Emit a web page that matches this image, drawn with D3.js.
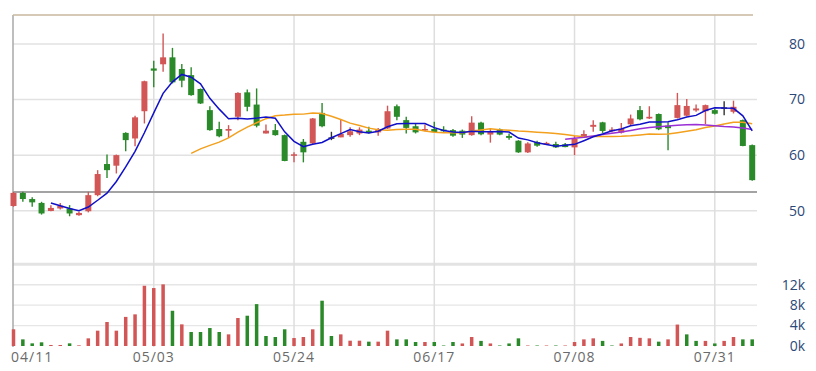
<!DOCTYPE html>
<html><head><meta charset="utf-8">
<script src="https://cdn.jsdelivr.net/npm/d3@7"></script>
<style>html,body{margin:0;padding:0;background:#fff;}svg{display:block;}</style>
</head><body>
<svg id="c" width="816" height="371"></svg>
<script>
// ---- data ----
const openP  = [50.85,53.2,52.1,51.4,49.95,50.4,50.4,49.2,49.9,52.8,58.4,58.1,64.0,63.0,67.9,75.6,76.35,77.6,75.5,74.4,71.9,68.1,64.7,64.4,66.9,71.3,69.1,63.9,64.5,63.6,59.9,62.4,62.1,67.6,63.2,63.2,63.6,63.9,64.4,64.1,64.8,68.8,66.3,65.2,64.5,64.7,64.6,64.5,64.4,63.6,65.85,63.7,64.65,63.45,62.6,60.5,62.35,62.0,62.0,61.95,61.4,63.2,65.1,65.9,64.3,64.05,65.55,68.1,66.6,67.4,65.3,66.7,67.1,68.05,67.9,68.1,68.6,67.8,66.3,61.8];
const highP  = [53.4,53.4,52.4,51.6,51.0,51.4,51.0,49.8,53.4,57.3,60.1,60.1,64.1,67.1,73.4,77.0,81.9,79.3,76.4,75.8,72.0,68.8,66.0,65.4,71.3,71.8,72.0,65.5,65.6,63.7,60.5,62.9,66.7,69.4,64.2,66.5,65.0,65.0,65.1,64.9,68.9,69.1,66.9,65.7,65.5,66.0,65.2,64.7,64.6,67.0,66.0,64.7,64.8,63.9,62.7,62.3,62.6,62.4,62.4,62.2,63.5,64.5,66.3,66.0,65.0,65.8,67.3,68.85,68.8,67.5,65.9,71.2,70.1,69.1,69.1,68.4,69.7,69.8,66.4,61.9];
const lowP   = [50.7,51.6,50.7,49.3,49.9,50.2,49.0,49.1,49.7,52.6,55.9,56.7,60.7,61.6,65.7,72.2,75.0,72.9,72.2,70.7,69.2,64.4,63.2,63.1,66.3,67.9,65.0,63.9,63.5,58.9,58.7,58.7,62.0,65.0,62.7,63.2,63.3,63.6,63.9,63.5,64.7,66.3,63.9,63.9,64.3,64.1,64.2,63.3,63.1,63.5,63.6,62.25,63.6,62.75,60.4,60.4,61.5,61.9,61.3,61.4,60.0,63.1,64.2,64.0,64.1,63.9,65.4,66.3,66.5,64.5,60.9,66.6,67.0,67.8,65.6,67.3,67.2,67.5,61.6,55.4];
const closeP = [53.2,52.1,51.5,49.5,50.5,50.9,49.5,49.6,52.8,56.6,57.3,60.0,62.7,66.8,73.3,75.2,77.6,73.1,73.4,70.8,69.3,64.5,63.4,64.7,71.2,68.7,65.3,64.4,63.6,58.95,60.15,60.5,66.6,65.2,63.2,63.8,64.3,64.6,64.05,64.7,67.9,66.9,64.9,64.1,64.7,64.15,64.3,63.5,63.7,65.85,63.75,64.35,63.7,63.1,60.5,62.1,61.7,62.2,61.4,61.45,62.95,63.8,65.45,64.35,64.6,64.75,66.6,66.45,66.9,64.65,64.85,69.0,68.85,68.4,69.0,67.45,68.6,68.7,61.65,55.5];
// volume in thousands
const volume = [3.27,1.3,0.52,0.72,0.2,0.2,0.52,0.13,1.5,3.0,4.7,3.0,5.7,6.2,11.8,11.35,12.07,6.9,4.24,2.74,2.74,3.52,2.74,2.28,5.48,5.93,8.2,1.96,1.76,3.27,1.56,1.76,3.27,8.87,1.96,2.28,1.04,1.04,0.85,0.85,3.0,1.3,1.3,0.78,0.78,0.78,0.1,0.78,0.5,1.76,1.0,0.5,0.1,0.5,1.5,0.1,0.1,0.1,0.1,0.1,0.78,1.3,1.5,1.0,0.1,0.5,1.76,1.6,1.5,0.85,1.3,4.2,2.28,1.0,1.0,0.5,1.0,1.76,1.3,1.3];
// 1 = up day (red), 0 = down day (green)
const volUp = [1,0,0,0,1,1,0,1,1,1,1,1,1,1,1,1,1,0,1,0,0,0,0,1,1,0,0,0,0,0,1,1,1,0,0,1,1,1,0,1,1,0,0,0,1,0,0,0,1,1,0,1,0,0,0,1,0,1,0,1,1,1,1,0,0,1,1,1,1,0,1,1,0,0,1,0,1,1,0,0];
const ma5 = [null,null,null,null,51.37,50.90,50.38,50.00,50.66,51.88,53.16,55.26,57.88,60.68,64.02,67.60,71.12,73.20,74.52,74.02,72.84,70.22,68.28,66.54,66.62,66.50,66.66,66.86,66.64,64.19,62.48,61.52,61.96,62.28,63.13,63.86,64.62,64.22,63.99,64.29,65.11,65.63,65.69,65.70,65.70,64.95,64.43,64.15,64.07,64.30,64.22,64.23,64.27,64.15,63.08,62.75,62.22,61.92,61.58,61.77,61.94,62.6,63.3,63.8,64.4,64.7,65.3,65.55,65.95,65.95,66.0,66.37,66.85,67.15,68.02,68.54,68.46,68.43,67.08,64.38];
const ma20 = [null,null,null,null,null,null,null,null,null,null,null,null,null,null,null,null,null,null,null,60.32,61.13,61.75,62.34,63.10,64.14,65.03,65.82,66.56,67.10,67.21,67.36,67.38,67.58,67.50,66.99,66.42,65.76,65.33,64.86,64.56,64.49,64.61,64.68,64.65,64.33,64.10,64.05,64.01,64.01,64.36,64.54,64.73,64.58,64.48,64.34,64.26,64.13,64.01,63.88,63.71,63.47,63.31,63.34,63.35,63.35,63.38,63.49,63.64,63.80,63.74,63.79,64.03,64.28,64.55,64.97,65.24,65.59,65.91,65.92,65.63];
const ma60 = [62.86,63.03,63.22,63.45,63.70,63.94,64.17,64.45,64.73,64.97,65.10,65.23,65.38,65.48,65.51,65.43,65.31,65.16,65.08,64.89,64.63];
const ma60Start = 59;
const tickIdx = [0,15,30,45,60,75];
const tickLabels = ["04/11","05/03","05/24","06/17","07/08","07/31"];
const priceTicks = [50,60,70,80];
const volTicks = [0,4,8,12];

// ---- layout ----
const svg = d3.select("#c");
const n = closeP.length;
const left = 13, right = 757;
const x = d3.scalePoint().domain(d3.range(n)).range([13.5, 752.2]);
const y = d3.scaleLinear().domain([50, 80]).range([210.7, 44]);
const yv = d3.scaleLinear().domain([0, 16]).range([346, 264.3]);
const RED = "#d25656", GREEN = "#2a8a2a", DOJI = "#333";

// horizontal grid (price)
svg.append("g").selectAll("line").data(priceTicks).join("line")
  .attr("x1", left).attr("x2", right)
  .attr("y1", d => y(d)).attr("y2", d => y(d))
  .attr("stroke", "#e2e2e2").attr("stroke-width", 1.5);
// volume grid
svg.append("g").selectAll("line").data(volTicks.filter(d => d > 0)).join("line")
  .attr("x1", left).attr("x2", right)
  .attr("y1", d => yv(d)).attr("y2", d => yv(d))
  .attr("stroke", "#e6e6e6").attr("stroke-width", 1.3);
svg.append("line").attr("x1", left).attr("x2", right).attr("y1", yv(16)).attr("y2", yv(16))
  .attr("stroke", "#e3e3e3").attr("stroke-width", 3);
// vertical grid
svg.append("g").selectAll("line").data(tickIdx.slice(1)).join("line")
  .attr("x1", d => x(d)).attr("x2", d => x(d)).attr("y1", 15).attr("y2", 347)
  .attr("stroke", "#dedede").attr("stroke-width", 1.5);
// dark base line of price panel
svg.append("line").attr("x1", left).attr("x2", right).attr("y1", 192).attr("y2", 192)
  .attr("stroke", "#a3a3a3").attr("stroke-width", 2);
// left axis line
svg.append("line").attr("x1", left).attr("x2", left).attr("y1", 15).attr("y2", 347)
  .attr("stroke", "#a8a8a8").attr("stroke-width", 1.5);
// top border
svg.append("line").attr("x1", left).attr("x2", 753).attr("y1", 15).attr("y2", 15)
  .attr("stroke", "#c8b89e").attr("stroke-width", 1.5);

// candles
const idx = d3.range(n);
const cCol = i => closeP[i] > openP[i] ? RED : (closeP[i] < openP[i] ? GREEN : DOJI);
const bw = 6;
const cg = svg.append("g");
cg.selectAll("line.w").data(idx).join("line").attr("class", "w")
  .attr("x1", i => x(i)).attr("x2", i => x(i))
  .attr("y1", i => y(highP[i])).attr("y2", i => y(lowP[i]))
  .attr("stroke", cCol).attr("stroke-width", 1.4);
cg.selectAll("rect").data(idx).join("rect")
  .attr("x", i => x(i) - bw / 2).attr("width", bw)
  .attr("y", i => y(Math.max(openP[i], closeP[i])))
  .attr("height", i => Math.max(1.5, Math.abs(y(openP[i]) - y(closeP[i]))))
  .attr("fill", cCol);

// volume bars
svg.append("g").selectAll("rect").data(idx).join("rect")
  .attr("x", i => x(i) - 1.75).attr("width", 3.5)
  .attr("y", i => yv(volume[i])).attr("height", i => yv(0) - yv(volume[i]))
  .attr("fill", i => volUp[i] ? RED : GREEN);

// moving averages
const line = d3.line().defined(d => d[1] != null).x(d => x(d[0])).y(d => y(d[1]));
svg.append("path").attr("d", line(ma20.map((v, i) => [i, v])))
  .attr("fill", "none").attr("stroke", "#f2a01e").attr("stroke-width", 1.5);
svg.append("path").attr("d", line(ma60.map((v, i) => [i + ma60Start, v])))
  .attr("fill", "none").attr("stroke", "#9a2fd6").attr("stroke-width", 1.5);
svg.append("path").attr("d", line(ma5.map((v, i) => [i, v])))
  .attr("fill", "none").attr("stroke", "#1010c8").attr("stroke-width", 1.5);

// right axis labels
const lab = "'Open Sans', 'Noto Sans', sans-serif";
svg.append("g").selectAll("text").data(priceTicks).join("text")
  .attr("x", 805).attr("y", d => y(d)).attr("dy", "0.35em").attr("text-anchor", "end")
  .attr("font-family", lab).attr("font-size", 14).attr("fill", "#2b4877")
  .text(d => d);
svg.append("g").selectAll("text").data(volTicks).join("text")
  .attr("x", 805).attr("y", d => yv(d)).attr("dy", "0.35em").attr("text-anchor", "end")
  .attr("font-family", lab).attr("font-size", 14).attr("fill", "#2b4877")
  .text(d => d + "k");
// date labels
svg.append("g").selectAll("text").data(tickIdx).join("text")
  .attr("x", (d, k) => k === 0 ? 11 : x(d)).attr("y", 357).attr("dy", "0.35em")
  .attr("text-anchor", (d, k) => k === 0 ? "start" : "middle")
  .attr("font-family", lab).attr("font-size", 14).attr("letter-spacing", 1).attr("fill", "#6a6a6a")
  .text((d, k) => tickLabels[k]);
</script>
</body></html>
